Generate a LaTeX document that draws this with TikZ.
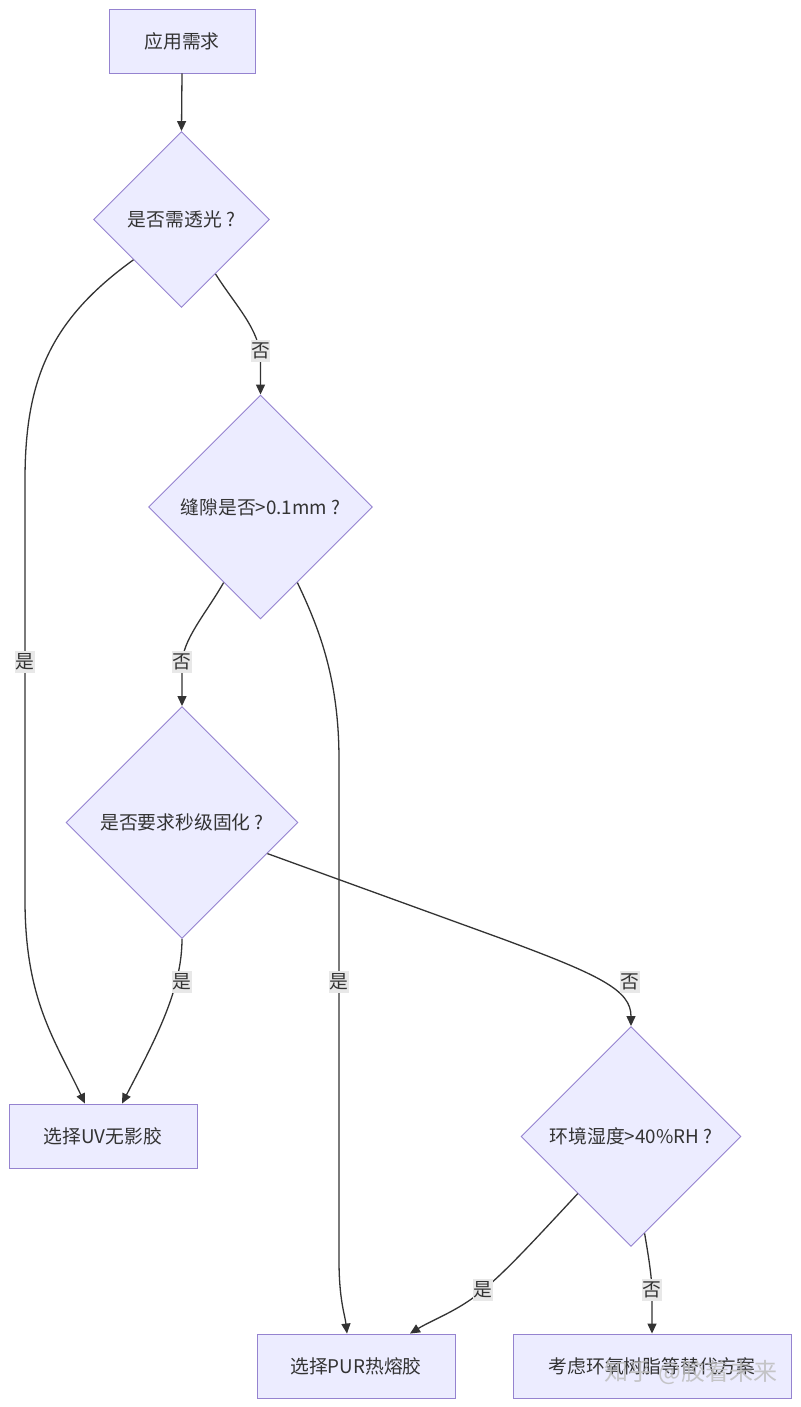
\documentclass[tikz,border=0pt]{standalone}
\usepackage{fontspec}
\setmainfont{Noto Sans CJK SC}
\usetikzlibrary{shapes.geometric,arrows.meta}
\definecolor{nodefill}{HTML}{ECECFF}
\definecolor{nodeline}{HTML}{9583D0}
\definecolor{edgeline}{HTML}{333333}
\definecolor{lblbg}{HTML}{E8E8E8}
\definecolor{txtcol}{HTML}{333333}
\definecolor{wmcol}{HTML}{BDBDBD}
\begin{document}
\begin{tikzpicture}[x=1pt,y=-1pt,
  every node/.style={font=\fontsize{18.8}{22}\selectfont,text=txtcol},
  box/.style={draw=nodeline,fill=nodefill,line width=0.9pt,inner sep=0pt,minimum height=64pt},
  dia/.style={shape=diamond,draw=nodeline,fill=nodefill,line width=0.9pt,inner sep=0pt,aspect=1},
  edge/.style={draw=edgeline,line width=1.3pt,-{Triangle[length=10pt,width=9pt]}},
  lbl/.style={fill=lblbg,inner xsep=0.5pt,inner ysep=3pt},
  wm/.style={font=\fontsize{24}{28}\selectfont,text=wmcol,opacity=0.85}]
\useasboundingbox[fill=white] (0,0) rectangle (800,1407);

% nodes
\node[box,minimum width=146pt] (start) at (182,41) {应用需求};
\node[dia,minimum size=176pt] (d1) at (181.5,219.5) {是否需透光 ?};
\node[dia,minimum size=224pt] (d2) at (260.5,507) {缝隙是否>0.1mm ?};
\node[dia,minimum size=232pt] (d3) at (182,822.5) {是否要求秒级固化 ?};
\node[dia,minimum size=220pt] (d4) at (631,1136.5) {环境湿度>40\%RH ?};
\node[box,minimum width=188pt] (uv) at (103,1136) {选择UV无影胶};
\node[box,minimum width=198pt] (pur) at (356,1366) {选择PUR热熔胶};
\node[box,minimum width=278pt] (alt) at (652,1366) {考虑环氧树脂等替代方案};

% edges
\draw[edge] (start.south) -- (d1.north);
\draw[edge] (d1.220) .. controls (50,320) and (25,380) .. (25,480) -- (25,900)
  .. controls (25,1000) and (55,1040) .. ([xshift=-18pt]uv.north);
\draw[edge] (d1.-58) .. controls (235,305) and (260.5,330) .. (260.5,360) -- (d2.north);
\draw[edge] (d2.244) .. controls (205,615) and (182,640) .. (182,665) -- (d3.north);
\draw[edge] (d2.-64) .. controls (320,630) and (339,680) .. (339,760) -- (339,1260)
  .. controls (339,1300) and (345,1315) .. ([xshift=-9pt]pur.north);
\draw[edge] (d3.south) .. controls (182,990) and (155,1040) .. ([xshift=19pt]uv.north);
\draw[edge] (d3.-20) -- (500,938) .. controls (600,975) and (631,990) .. (d4.north);
\draw[edge] (d4.227) .. controls (530,1245) and (505,1272) .. (483,1290)
  .. controls (460,1310) and (432,1320) .. ([xshift=54pt]pur.north);
\draw[edge] (d4.-82) .. controls (650,1265) and (652,1280) .. (652,1295) -- (alt.north);

% edge labels
\node[lbl] (l1) at (25,662) {是};
\node[lbl] (l2) at (260.5,351) {否};
\node[lbl] (l3) at (182,662) {否};
\node[lbl] (l4) at (339,982) {是};
\node[lbl] (l5) at (182,982) {是};
\node[lbl] (l6) at (630,982) {否};
\node[lbl] (l7) at (483,1290) {是};
\node[lbl] (l8) at (652,1290) {否};

% watermark
\node[wm] (wmark) at (691,1372) {知乎 @胶着未来};
\end{tikzpicture}
\end{document}
